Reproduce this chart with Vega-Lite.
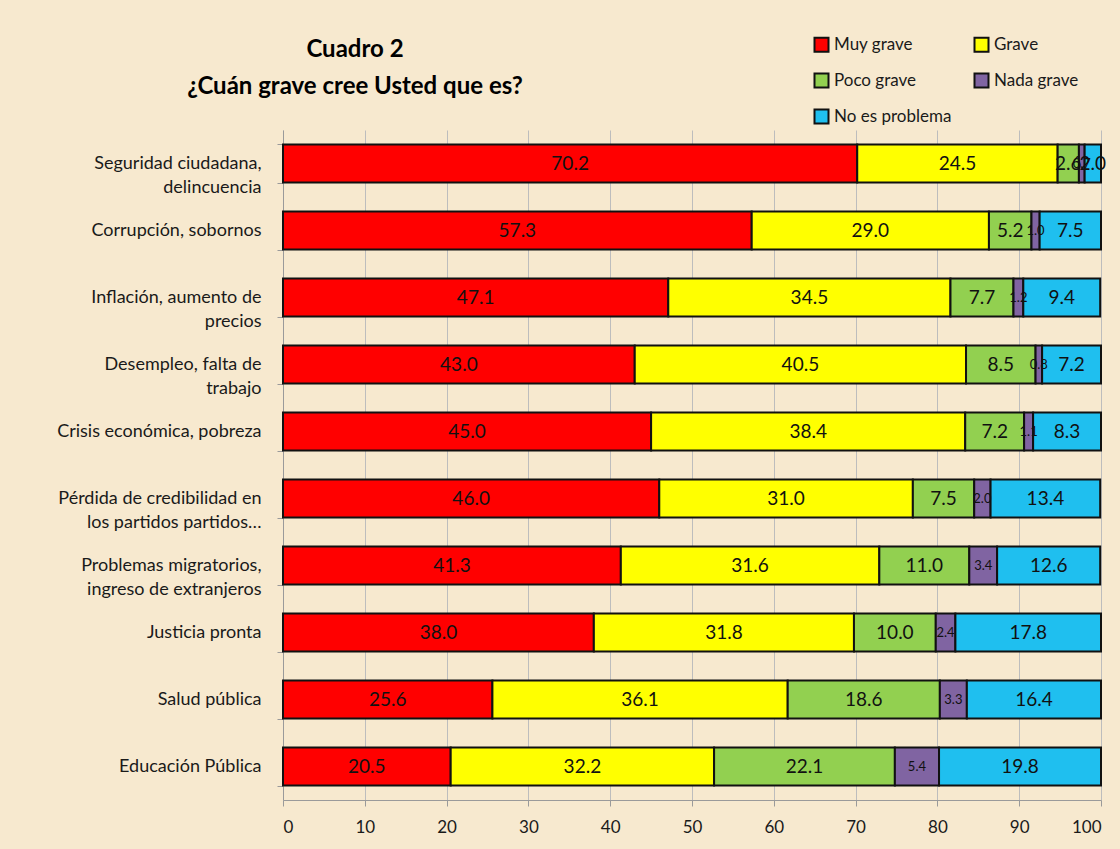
{
  "$schema": "https://vega.github.io/schema/vega-lite/v6.json",
  "autosize": {"type": "none"},
  "width": 818,
  "height": 670,
  "padding": {"left": 283, "top": 130, "right": 19, "bottom": 49},
  "background": "#F7E9CF",
  "config": {
    "font": "Lato",
    "view": {"stroke": null}
  },
  "title": {
    "text": ["Cuadro 2", "¿Cuán grave cree Usted que es?"],
    "frame": "group",
    "anchor": "start",
    "align": "center",
    "dx": 72,
    "offset": -63,
    "fontSize": 24,
    "fontWeight": "bold",
    "lineHeight": 37,
    "color": "#000000",
    "font": "Lato"
  },
  "data": {
    "values": [
      {"t": "Seguridad ciudadana,|delincuencia", "c": "Muy grave", "k": 1, "v": 70.2},
      {"t": "Seguridad ciudadana,|delincuencia", "c": "Grave", "k": 2, "v": 24.5},
      {"t": "Seguridad ciudadana,|delincuencia", "c": "Poco grave", "k": 3, "v": 2.6},
      {"t": "Seguridad ciudadana,|delincuencia", "c": "Nada grave", "k": 4, "v": 0.7},
      {"t": "Seguridad ciudadana,|delincuencia", "c": "No es problema", "k": 5, "v": 2.0},
      {"t": "Corrupción, sobornos", "c": "Muy grave", "k": 1, "v": 57.3},
      {"t": "Corrupción, sobornos", "c": "Grave", "k": 2, "v": 29.0},
      {"t": "Corrupción, sobornos", "c": "Poco grave", "k": 3, "v": 5.2},
      {"t": "Corrupción, sobornos", "c": "Nada grave", "k": 4, "v": 1.0},
      {"t": "Corrupción, sobornos", "c": "No es problema", "k": 5, "v": 7.5},
      {"t": "Inflación, aumento de|precios", "c": "Muy grave", "k": 1, "v": 47.1},
      {"t": "Inflación, aumento de|precios", "c": "Grave", "k": 2, "v": 34.5},
      {"t": "Inflación, aumento de|precios", "c": "Poco grave", "k": 3, "v": 7.7},
      {"t": "Inflación, aumento de|precios", "c": "Nada grave", "k": 4, "v": 1.2},
      {"t": "Inflación, aumento de|precios", "c": "No es problema", "k": 5, "v": 9.4},
      {"t": "Desempleo, falta de|trabajo", "c": "Muy grave", "k": 1, "v": 43.0},
      {"t": "Desempleo, falta de|trabajo", "c": "Grave", "k": 2, "v": 40.5},
      {"t": "Desempleo, falta de|trabajo", "c": "Poco grave", "k": 3, "v": 8.5},
      {"t": "Desempleo, falta de|trabajo", "c": "Nada grave", "k": 4, "v": 0.8},
      {"t": "Desempleo, falta de|trabajo", "c": "No es problema", "k": 5, "v": 7.2},
      {"t": "Crisis económica, pobreza", "c": "Muy grave", "k": 1, "v": 45.0},
      {"t": "Crisis económica, pobreza", "c": "Grave", "k": 2, "v": 38.4},
      {"t": "Crisis económica, pobreza", "c": "Poco grave", "k": 3, "v": 7.2},
      {"t": "Crisis económica, pobreza", "c": "Nada grave", "k": 4, "v": 1.1},
      {"t": "Crisis económica, pobreza", "c": "No es problema", "k": 5, "v": 8.3},
      {"t": "Pérdida de credibilidad en|los partidos partidos…", "c": "Muy grave", "k": 1, "v": 46.0},
      {"t": "Pérdida de credibilidad en|los partidos partidos…", "c": "Grave", "k": 2, "v": 31.0},
      {"t": "Pérdida de credibilidad en|los partidos partidos…", "c": "Poco grave", "k": 3, "v": 7.5},
      {"t": "Pérdida de credibilidad en|los partidos partidos…", "c": "Nada grave", "k": 4, "v": 2.0},
      {"t": "Pérdida de credibilidad en|los partidos partidos…", "c": "No es problema", "k": 5, "v": 13.4},
      {"t": "Problemas migratorios,|ingreso de extranjeros", "c": "Muy grave", "k": 1, "v": 41.3},
      {"t": "Problemas migratorios,|ingreso de extranjeros", "c": "Grave", "k": 2, "v": 31.6},
      {"t": "Problemas migratorios,|ingreso de extranjeros", "c": "Poco grave", "k": 3, "v": 11.0},
      {"t": "Problemas migratorios,|ingreso de extranjeros", "c": "Nada grave", "k": 4, "v": 3.4},
      {"t": "Problemas migratorios,|ingreso de extranjeros", "c": "No es problema", "k": 5, "v": 12.6},
      {"t": "Justicia pronta", "c": "Muy grave", "k": 1, "v": 38.0},
      {"t": "Justicia pronta", "c": "Grave", "k": 2, "v": 31.8},
      {"t": "Justicia pronta", "c": "Poco grave", "k": 3, "v": 10.0},
      {"t": "Justicia pronta", "c": "Nada grave", "k": 4, "v": 2.4},
      {"t": "Justicia pronta", "c": "No es problema", "k": 5, "v": 17.8},
      {"t": "Salud pública", "c": "Muy grave", "k": 1, "v": 25.6},
      {"t": "Salud pública", "c": "Grave", "k": 2, "v": 36.1},
      {"t": "Salud pública", "c": "Poco grave", "k": 3, "v": 18.6},
      {"t": "Salud pública", "c": "Nada grave", "k": 4, "v": 3.3},
      {"t": "Salud pública", "c": "No es problema", "k": 5, "v": 16.4},
      {"t": "Educación Pública", "c": "Muy grave", "k": 1, "v": 20.5},
      {"t": "Educación Pública", "c": "Grave", "k": 2, "v": 32.2},
      {"t": "Educación Pública", "c": "Poco grave", "k": 3, "v": 22.1},
      {"t": "Educación Pública", "c": "Nada grave", "k": 4, "v": 5.4},
      {"t": "Educación Pública", "c": "No es problema", "k": 5, "v": 19.8}
    ]
  },
  "transform": [
    {"stack": "v", "groupby": ["t"], "sort": [{"field": "k", "order": "ascending"}], "as": ["v0", "v1"]},
    {"calculate": "(datum.v0 + datum.v1) / 2", "as": "mid"}
  ],
  "encoding": {
    "y": {
      "field": "t",
      "type": "nominal",
      "sort": null,
      "title": null,
      "scale": {"paddingInner": 0.43, "paddingOuter": 0.215},
      "axis": {
        "labelExpr": "split(datum.label, '|')",
        "labelFontSize": 18,
        "labelColor": "#1a1a1a",
        "labelFont": "Lato",
        "labelLineHeight": 24,
        "labelPadding": 16,
        "labelLimit": 300,
        "tickBand": "extent",
        "tickColor": "#9a9a9a",
        "tickSize": 6,
        "domainColor": "#9a9a9a",
        "domainWidth": 1
      }
    }
  },
  "layer": [
    {
      "mark": {"type": "bar", "stroke": "#111111", "strokeWidth": 2},
      "encoding": {
        "x": {
          "field": "v0",
          "type": "quantitative",
          "scale": {"domain": [0, 100]},
          "title": null,
          "axis": {
            "values": [0, 10, 20, 30, 40, 50, 60, 70, 80, 90, 100],
            "grid": true,
            "gridColor": "#bdbdbd",
            "gridWidth": 1,
            "labelFontSize": 17,
            "labelColor": "#1a1a1a",
            "labelFont": "Lato",
            "labelPadding": 13,
            "tickColor": "#9a9a9a",
            "tickSize": 6,
            "domain": true,
            "domainColor": "#9a9a9a"
          }
        },
        "x2": {"field": "v1"},
        "color": {
          "field": "c",
          "type": "nominal",
          "title": null,
          "scale": {
            "domain": ["Muy grave", "Grave", "Poco grave", "Nada grave", "No es problema"],
            "range": ["#FF0000", "#FFFF00", "#92D050", "#8064A2", "#1FBFEF"]
          },
          "legend": {
            "orient": "none",
            "legendX": 530,
            "legendY": -94,
            "direction": "horizontal",
            "columns": 2,
            "columnPadding": 18,
            "rowPadding": 13,
            "symbolType": "square",
            "symbolSize": 196,
            "symbolStrokeColor": "#111111",
            "symbolStrokeWidth": 2,
            "labelFontSize": 17,
            "labelFont": "Lato",
            "labelColor": "#1a1a1a",
            "labelOffset": 4
          }
        }
      }
    },
    {
      "mark": {"type": "text", "align": "center", "baseline": "middle", "font": "Lato", "color": "#111111"},
      "encoding": {
        "x": {"field": "mid", "type": "quantitative"},
        "text": {"field": "v", "type": "quantitative", "format": ".1f"},
        "size": {
          "condition": {"test": "datum.c === 'Nada grave'", "value": 13},
          "value": 19
        }
      }
    }
  ]
}
